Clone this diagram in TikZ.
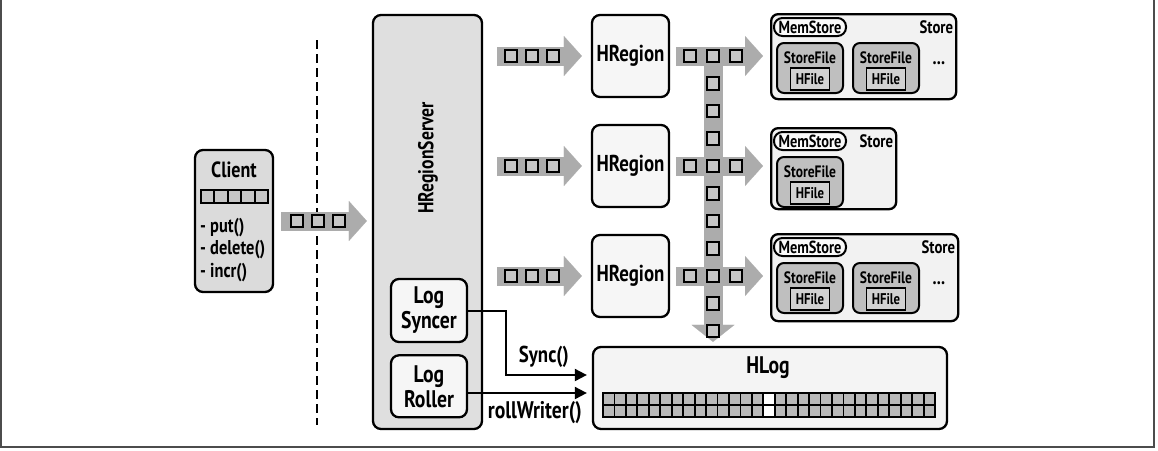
\documentclass[tikz,border=0pt]{standalone}
\usepackage{fontspec}
\setmainfont{PT Sans}[FakeStretch=0.82]
\usetikzlibrary{arrows.meta,positioning,calc}

\begin{document}
\begin{tikzpicture}[
    x=1pt, y=-1pt,
    box/.style={rectangle, draw, line width=2.3pt, rounded corners=8pt, inner sep=0pt, align=center, font=\bfseries\fontsize{24}{25}\selectfont},
    grey box/.style={box, fill=gray!28},
    light box/.style={box, fill=gray!7},
    store/.style={box, rounded corners=7pt, fill=gray!10},
    sfile/.style={box, line width=2pt, rounded corners=7pt, fill=gray!50, minimum width=66pt, minimum height=50pt},
    hfile/.style={rectangle, draw, line width=1.8pt, fill=gray!35, minimum width=39pt, minimum height=22pt, inner sep=0pt, font=\bfseries\fontsize{15.5}{15.5}\selectfont},
    mem/.style={rectangle, draw, line width=2pt, rounded corners=8.5pt, fill=gray!4, minimum width=72pt, minimum height=18pt, inner sep=0pt, font=\bfseries\fontsize{17.5}{17.5}\selectfont},
    small/.style={font=\bfseries\fontsize{16.5}{16.5}\selectfont, inner sep=0pt},
    pkt/.style={rectangle, draw, line width=2pt, fill=gray!45, minimum size=12.5pt, inner sep=0pt},
    cell/.style={rectangle, draw, line width=1.8pt, fill=gray!55, minimum width=11.45pt, minimum height=12pt, inner sep=0pt},
    fat/.style={line width=19pt, draw=gray!65, -{Triangle[length=18pt, width=40pt, line width=0.1pt]}},
    link/.style={line width=2pt, -{Triangle[length=12pt, width=12pt]}},
    lbl/.style={font=\bfseries\fontsize{18.5}{18.5}\selectfont, inner sep=1pt}
]
\useasboundingbox (0,0) rectangle (1158,450);
\draw[line width=1.5pt, gray!60!black] (1,0) -- (1,447) -- (1154,447) -- (1154,0);

% client side
\node[grey box, minimum width=78pt, minimum height=142pt] (client) at (234,221) {};
\node[lbl, font=\bfseries\fontsize{22}{22}\selectfont] (clientname) at (234,170) {Client};
\foreach \k in {0,...,4}
  \node[pkt, minimum width=13.4pt, minimum height=13pt] (cq\k) at ({207.7+13.4*\k},196.5) {};
\node[lbl, anchor=west, align=left, font=\bfseries\fontsize{20}{22.5}\selectfont] (calls) at (199,250) {- put()\\- delete()\\- incr()};

\coordinate (divtop) at (317,40);
\coordinate (divbot) at (317,425);
\draw[line width=2pt, dash pattern=on 9pt off 5pt] (divtop) -- (divbot);

% region server
\node[grey box, minimum width=109pt, minimum height=414pt, fill=gray!25] (server) at (427.5,222) {};
\node[lbl, rotate=90, font=\bfseries\fontsize{21.5}{21.5}\selectfont] (servername) at (428,158) {HRegionServer};
\node[light box, minimum width=76pt, minimum height=63pt] (syncer) at (429,310.5) {Log\\Syncer};
\node[light box, minimum width=76pt, minimum height=62pt, below=11pt of syncer] (roller) {Log\\Roller};

\foreach \i/\y in {1/56,2/166,3/276}
  \node[light box, minimum width=77pt, minimum height=82pt, font=\bfseries\fontsize{23}{23}\selectfont] (hr\i) at (630.5,\y) {HRegion};

% stores
\node[store, minimum width=185pt, minimum height=85pt, anchor=north west] (st1) at (770,13) {};
\node[store, minimum width=125pt, minimum height=81pt, anchor=north west] (st2) at (770,127) {};
\node[store, minimum width=187pt, minimum height=87pt, anchor=north west] (st3) at (770,233) {};
\foreach \s in {1,2,3} {
  \node[mem] (mem\s) at ($(st\s.north west)+(40,14)$) {MemStore};
  \node[small, anchor=east, font=\bfseries\fontsize{18}{18}\selectfont] (stlbl\s) at ($(st\s.north east)+(-4,14)$) {Store};
  \node[sfile] (sfa\s) at ($(st\s.north west)+(40,55)$) {};
  \node[small] (sfta\s) at ($(sfa\s.center)+(0,-10)$) {StoreFile};
  \node[hfile] (hfa\s) at ($(sfa\s.center)+(0,11)$) {HFile};
}
\foreach \s in {1,3} {
  \node[sfile] (sfb\s) at ($(st\s.north west)+(116,55)$) {};
  \node[small] (sftb\s) at ($(sfb\s.center)+(0,-10)$) {StoreFile};
  \node[hfile] (hfb\s) at ($(sfb\s.center)+(0,11)$) {HFile};
  \node[small, font=\bfseries\fontsize{20}{20}\selectfont] (dots\s) at ($(st\s.north west)+(169,50)$) {...};
}

% write-ahead log
\node[light box, fill=gray!9, minimum width=354pt, minimum height=82pt] (hlog) at (770,388) {};
\node[lbl, font=\bfseries\fontsize{24}{24}\selectfont] (hlogname) at (768,368) {HLog};
\node[rectangle, fill=black, minimum width=334pt, minimum height=25pt, inner sep=0pt] (walstrip) at (769,405) {};
\foreach \r in {0,1}
  \foreach \c in {0,...,28}
    \node[cell] (wc\r-\c) at ({603+11.45*(\c+0.5)},{399+12*\r}) {};
\foreach \r in {0,1}
  \node[cell, fill=white] (wf\r) at ({603+11.45*14.5},{399+12*\r}) {};

% data flow
\draw[fat] ($(client.east)+(7,0)$) coordinate (ca) -- ($(server.west |- client.east)+(-5,0)$);
\foreach \d in {16,37,58}
  \node[pkt] (cp\d) at ($(ca)+(\d,0)$) {};

\foreach \i in {1,2,3} {
  \draw[fat] ($(server.east |- hr\i.west)+(14,0)$) coordinate (sa\i) -- ($(hr\i.west)+(-9,0)$);
  \foreach \d in {14,35,56}
    \node[pkt] (sp\i-\d) at ($(sa\i)+(\d,0)$) {};
  \draw[fat] ($(hr\i.east)+(6,0)$) coordinate (ha\i) -- ($(st\i.west |- hr\i.east)+(-7,0)$);
}

\coordinate (waltop) at (713,46.5);
\draw[fat, -{Triangle[length=17pt, width=43pt, line width=0.1pt]}] (waltop) -- ($(waltop |- hlog.north)+(0,-4)$);
\foreach \k in {0,...,10}
  \node[pkt] (wp\k) at (713,{56+27.5*\k}) {};
\foreach \i in {1,2,3} {
  \node[pkt] (hp\i a) at ($(ha\i)+(14,0)$) {};
  \node[pkt] (hp\i b) at ($(ha\i)+(60,0)$) {};
}

% log threads
\coordinate (syncin) at ($(hlog.west)+(0,-13)$);
\coordinate (rollin) at ($(hlog.west)+(0,5)$);
\draw[link, shorten >=5pt] (syncer.east) -- ++(38,0) |- (syncin) node[lbl, pos=0.72, above=5pt, font=\bfseries\fontsize{23}{23}\selectfont] (synclbl) {Sync()};
\draw[link, shorten >=5pt] (roller.east |- rollin) -- (rollin);
\node[lbl, font=\bfseries\fontsize{24}{24}\selectfont] (rolllbl) at ($(rollin)+(-57,20)$) {rollWriter()};
\end{tikzpicture}
\end{document}
